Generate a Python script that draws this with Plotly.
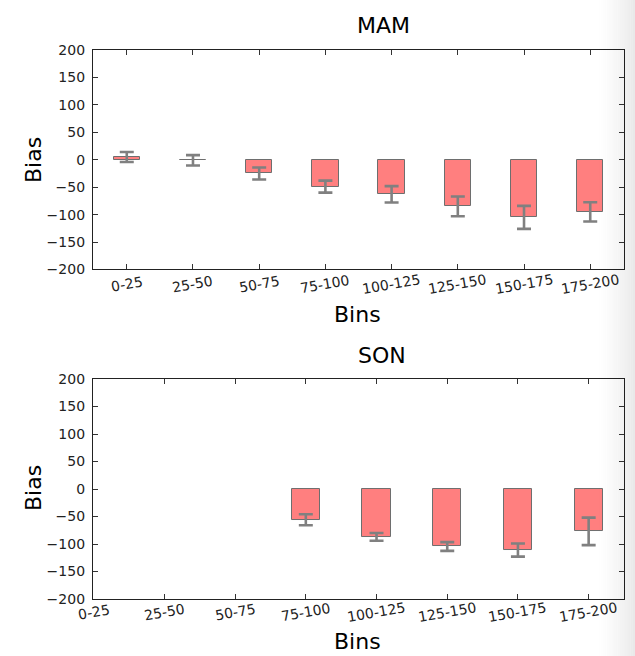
import plotly.graph_objects as go

bins = ["0-25", "25-50", "50-75", "75-100", "100-125", "125-150", "150-175", "175-200"]
mam_bias = [5, -1, -25, -49, -63, -85, -105, -95]
mam_err = [9, 9.5, 11, 11, 15, 18, 21, 17.5]
son_bias = [None, None, None, -56, -87, -104.5, -111, -77]
son_err = [None, None, None, 10, 7, 8, 12, 25]
yticks = [-200, -150, -100, -50, 0, 50, 100, 150, 200]
ytick_text = ["\u2212200", "\u2212150", "\u2212100", "\u221250", "0", "50", "100", "150", "200"]

FONT = "DejaVu Sans"
fig = go.Figure()

for bias, err, ax in [(mam_bias, mam_err, ""), (son_bias, son_err, "2")]:
    fig.add_trace(go.Bar(
        x=bins, y=bias, width=0.4,
        marker=dict(color="rgba(255,0,0,0.5)", line=dict(color="#6e6e6e", width=1)),
        error_y=dict(type="data", array=err, visible=True, color="#808080", thickness=2.6, width=7),
        xaxis="x" + ax, yaxis="y" + ax, showlegend=False,
    ))

axis_common = dict(
    showline=True, linecolor="#222", linewidth=1.3, mirror="allticks",
    ticks="inside", ticklen=5, tickcolor="#333", tickwidth=1,
    showgrid=False, zeroline=False,
    tickfont=dict(family=FONT, size=14, color="#222"),
)

fig.update_layout(
    width=635, height=656,
    margin=dict(l=93, r=11, t=50, b=57, autoexpand=False),
    plot_bgcolor="white", paper_bgcolor="white",
    bargap=0,
    xaxis=dict(domain=[0, 1], anchor="y", type="category", categoryarray=bins,
               categoryorder="array", range=[-0.51, 7.51], showticklabels=False, **axis_common),
    yaxis=dict(domain=[0.6002, 1], anchor="x", range=[-200, 200], tickvals=yticks,
               ticktext=ytick_text, ticklabelstandoff=4, **axis_common),
    xaxis2=dict(domain=[0, 1], anchor="y2", type="category", categoryarray=bins,
                categoryorder="array", range=[-0.01, 7.5], showticklabels=False, **axis_common),
    yaxis2=dict(domain=[0, 0.4007], anchor="x2", range=[-200, 200], tickvals=yticks,
                ticktext=ytick_text, ticklabelstandoff=4, **axis_common),
)

W = 635 - 93 - 11
H = 656 - 50 - 57
def px(xp):
    return (xp - 93) / W
def py(yp):
    return (656 - 57 - yp) / H

def txt(x, y, s, angle=0):
    fig.add_annotation(x=x, y=y, xref="paper", yref="paper", text=s, showarrow=False,
                       textangle=angle, font=dict(family=FONT, size=22, color="black"),
                       xanchor="center", yanchor="middle")

txt(px(383), py(26), "MAM")
txt(px(382), py(355), "SON")
txt(px(357), py(314), "Bins")
txt(px(357), py(641), "Bins")
txt(px(33), py(160), "Bias", -90)
txt(px(33), py(488), "Bias", -90)

# rotated category tick labels, centred on each tick
for xa, ycen in [("x", 284), ("x2", 612)]:
    for b in bins:
        fig.add_annotation(x=b, xref=xa, y=py(ycen), yref="paper", text=b, showarrow=False,
                           textangle=-10, font=dict(family=FONT, size=14, color="#222"),
                           xanchor="center", yanchor="middle")

# soft screenshot shadow on the right edge
n = 18
x0 = 596
for i in range(n):
    a = x0 + (635 - x0) * i / n
    b = x0 + (635 - x0) * (i + 1) / n
    fig.add_shape(type="rect", xref="paper", yref="paper", x0=px(a), x1=px(b),
                  y0=py(656), y1=py(0), line=dict(width=0), fillcolor="black",
                  opacity=0.085 * ((i + 1) / n) ** 1.5, layer="above")

fig.write_html("out.html", config={"displayModeBar": False},
               post_script="document.body.style.margin='0';document.body.style.overflow='hidden';")
